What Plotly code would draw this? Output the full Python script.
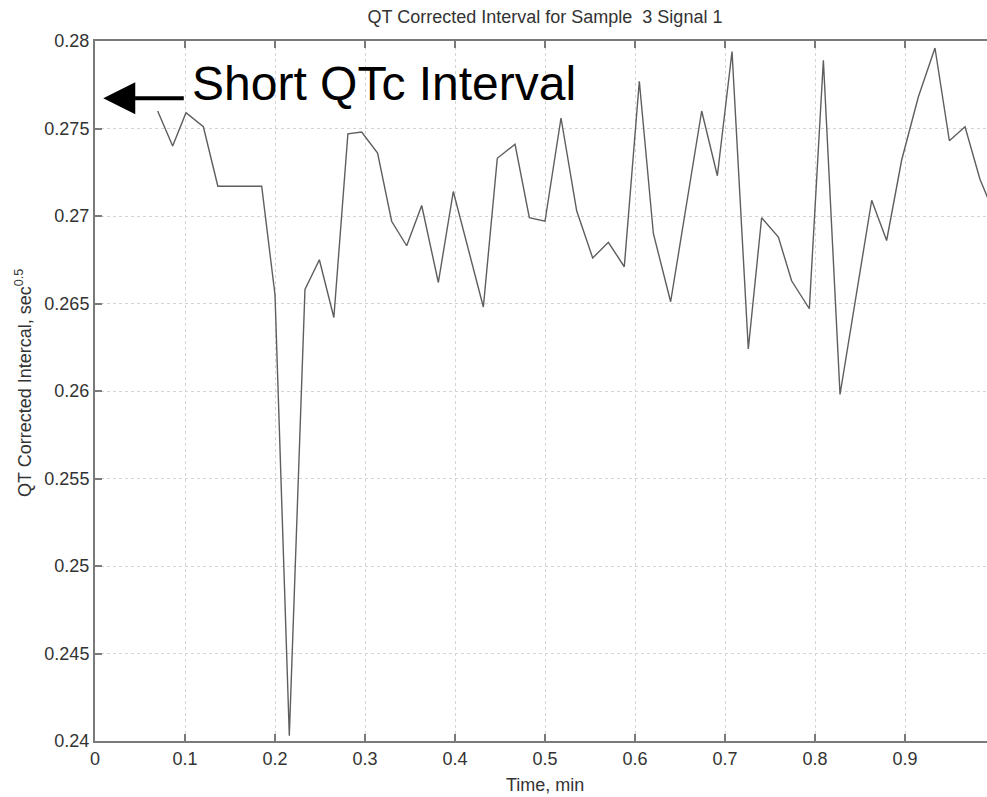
import plotly.graph_objects as go

# ---- data ----
time_min = [0.0696, 0.0863, 0.1011, 0.1204, 0.1365, 0.1852, 0.2000, 0.2159,
            0.2333, 0.2493, 0.2654, 0.2810, 0.2963, 0.3140, 0.3296, 0.3463,
            0.3630, 0.3815, 0.3981, 0.4315, 0.4470, 0.4667, 0.4826, 0.5000,
            0.5178, 0.5352, 0.5530, 0.5704, 0.5881, 0.6048, 0.6204, 0.6396,
            0.6741, 0.6915, 0.7078, 0.7259, 0.7407, 0.7593, 0.7740, 0.7937,
            0.8093, 0.8278, 0.8630, 0.8796, 0.8963, 0.9148, 0.9333, 0.9493,
            0.9667, 0.9833, 0.9963]
qtc = [0.2760, 0.2740, 0.2759, 0.2751, 0.2717, 0.2717, 0.2655, 0.2403,
       0.2658, 0.2675, 0.2642, 0.2747, 0.2748, 0.2736, 0.2697, 0.2683,
       0.2706, 0.2662, 0.2714, 0.2648, 0.2733, 0.2741, 0.2699, 0.2697,
       0.2756, 0.2703, 0.2676, 0.2685, 0.2671, 0.2777, 0.2690, 0.2651,
       0.2760, 0.2723, 0.2794, 0.2624, 0.2699, 0.2688, 0.2663, 0.2647,
       0.2789, 0.2598, 0.2709, 0.2686, 0.2732, 0.2768, 0.2796, 0.2743,
       0.2751, 0.2721, 0.2705]

x_tickvals = [0, 0.1, 0.2, 0.3, 0.4, 0.5, 0.6, 0.7, 0.8, 0.9]
x_ticktext = ["0", "0.1", "0.2", "0.3", "0.4", "0.5", "0.6", "0.7", "0.8", "0.9"]
y_tickvals = [0.24, 0.245, 0.25, 0.255, 0.26, 0.265, 0.27, 0.275, 0.28]
y_ticktext = ["0.24", "0.245", "0.25", "0.255", "0.26", "0.265", "0.27", "0.275", "0.28"]

title_text = "QT Corrected Interval for Sample  3 Signal 1"
x_label = "Time, min"
y_label = "QT Corrected Intercal, sec<sup>0.5</sup>"
note_text = "Short QTc Interval"

FONT = "Liberation Sans, Arial, Helvetica, sans-serif"
AXIS_COLOR = "#7a7a7a"
TEXT_COLOR = "#333333"

fig = go.Figure()
fig.add_trace(go.Scatter(
    x=time_min, y=qtc, mode="lines",
    line=dict(color="#5e5e5e", width=1.4),
    showlegend=False, hoverinfo="x+y",
))

fig.update_layout(
    width=987, height=797,
    margin=dict(l=95, r=0, t=41, b=56),
    paper_bgcolor="white", plot_bgcolor="white",
    font=dict(family=FONT, color=TEXT_COLOR, size=18),
    title=dict(text=title_text, x=0.5045, xref="paper", xanchor="center",
               y=1 - 17 / 797, yref="container", yanchor="middle",
               font=dict(size=18, color=TEXT_COLOR, family=FONT)),
)

fig.update_xaxes(
    range=[0, 892 / 900], tickvals=x_tickvals, ticktext=x_ticktext,
    ticks="inside", ticklen=7, tickcolor=AXIS_COLOR, tickwidth=1.5,
    showline=True, linecolor=AXIS_COLOR, linewidth=2, mirror="ticks",
    showgrid=True, gridcolor="#d4d4d4", griddash="dot", gridwidth=1,
    zeroline=False, tickfont=dict(size=18, color=TEXT_COLOR),
)
fig.update_yaxes(
    range=[0.24, 0.28], tickvals=y_tickvals, ticktext=y_ticktext,
    ticks="inside", ticklen=7, tickcolor=AXIS_COLOR, tickwidth=1.5,
    showline=True, linecolor=AXIS_COLOR, linewidth=2, mirror=False,
    showgrid=True, gridcolor="#d4d4d4", griddash="dot", gridwidth=1,
    zeroline=False, tickfont=dict(size=18, color=TEXT_COLOR),
)

# axis titles as annotations for exact placement
fig.add_annotation(text=x_label, xref="paper", yref="paper",
                   x=0.5045, y=-44 / 700, xanchor="center", yanchor="middle",
                   showarrow=False, font=dict(size=18, color=TEXT_COLOR, family=FONT))
fig.add_annotation(text=y_label, xref="paper", yref="paper",
                   x=(23 - 95) / 892, y=(741 - 383) / 700, xanchor="center",
                   yanchor="middle", textangle=-90, showarrow=False,
                   font=dict(size=18, color=TEXT_COLOR, family=FONT))

# "Short QTc Interval" note with arrow
fig.add_annotation(text=note_text, xref="x", yref="y",
                   x=0.1056, y=0.2776, xanchor="left", yanchor="middle",
                   showarrow=False, font=dict(size=48, color="black", family=FONT))
fig.add_annotation(text="", xref="x", yref="y", x=0.0092, y=0.27673,
                   ax=82, ay=0, showarrow=True, arrowhead=2, arrowsize=1.6,
                   arrowwidth=4, arrowcolor="black", standoff=0)

fig.write_html("out.html",
               config={"displayModeBar": False},
               post_script="document.body.style.margin='0px';document.body.style.overflow='hidden';")
